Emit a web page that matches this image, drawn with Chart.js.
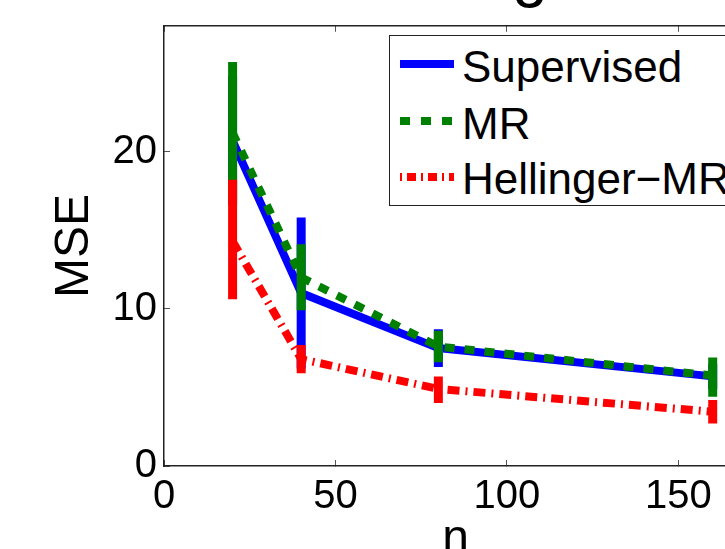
<!DOCTYPE html>
<html>
<head>
<meta charset="utf-8">
<script src="https://cdn.jsdelivr.net/npm/chart.js@4"></script>
<style>
  html, body { margin: 0; padding: 0; background: #fff; }
  #wrap { position: relative; width: 725px; height: 549px; overflow: hidden; background: #fff; }
  #chart { position: absolute; left: 0; top: -80px; }
  .lg { position: absolute; font-family: "Liberation Sans", Arial, sans-serif; font-size: 44px; line-height: 44px; color: #000; white-space: nowrap; }
  #legendBox { position: absolute; left: 389px; top: 35px; width: 420px; height: 171px; box-sizing: border-box; border: 1.5px solid #222; background: #fff; }
  svg.sw { position: absolute; left: 400px; width: 54px; height: 12px; }
</style>
</head>
<body>
<div id="wrap">
  <canvas id="chart" width="1060" height="700"></canvas>
  <div id="legendBox"></div>
  <svg class="sw" style="top:58px"><line x1="0" y1="6" x2="54" y2="6" stroke="#0000ff" stroke-width="8"/></svg>
  <div class="lg" style="left:462px;top:45px">Supervised</div>
  <svg class="sw" style="top:115px"><line x1="0" y1="6" x2="54" y2="6" stroke="#008000" stroke-width="8" stroke-dasharray="10 11"/></svg>
  <div class="lg" style="left:462px;top:102px">MR</div>
  <svg class="sw" style="top:171px"><line x1="0" y1="6" x2="54" y2="6" stroke="#ff0000" stroke-width="8" stroke-dasharray="2 5 9 5"/></svg>
  <div class="lg" style="left:462px;top:157px">Hellinger&minus;MR</div>
</div>
<script>
// données
var n = [20, 40, 80, 160];
var supervised   = [20.7, 11.0, 7.5, 5.7];
var supervisedLo = [16.6, 6.2, 6.3, 4.9];
var supervisedHi = [24.8, 15.8, 8.7, 6.5];
var mr   = [21.2, 12.0, 7.6, 5.75];
var mrLo = [16.9, 9.9, 6.6, 4.4];
var mrHi = [25.7, 14.1, 8.6, 6.9];
var hellinger   = [14.3, 6.8, 4.9, 3.45];
var hellingerLo = [10.6, 5.9, 4.0, 2.7];
var hellingerHi = [18.2, 7.7, 5.7, 4.2];
var xTicks = [0, 50, 100, 150];
var yTicks = [0, 10, 20];

var FONT = '"Liberation Sans", Arial, sans-serif';
var AXIS = '#222';

function pts(ys) {
    return n.map(function (x, i) { return {x: x, y: ys[i]}; });
}
// barres d'erreur : un segment vertical par point, séparés par des trous
function errPts(lo, hi) {
    var out = [];
    n.forEach(function (x, i) {
        out.push({x: x, y: lo[i]}, {x: x, y: hi[i]}, {x: x, y: null});
    });
    return out;
}

var ctx = document.getElementById('chart').getContext('2d');
var chart = new Chart(ctx, {
    type: 'line',
    data: {
        datasets: [
            {label: 'Supervised', data: pts(supervised), borderColor: '#0000ff', borderWidth: 8, pointRadius: 0, order: 6},
            {label: 'Supervised err', data: errPts(supervisedLo, supervisedHi), borderColor: '#0000ff', borderWidth: 9, pointRadius: 0, order: 5},
            {label: 'MR', data: pts(mr), borderColor: '#008000', borderWidth: 8, borderDash: [10, 10], pointRadius: 0, order: 4},
            {label: 'MR err', data: errPts(mrLo, mrHi), borderColor: '#008000', borderWidth: 9, pointRadius: 0, order: 3},
            {label: 'Hellinger-MR', data: pts(hellinger), borderColor: '#ff0000', borderWidth: 8, borderDash: [12, 6, 2, 6], pointRadius: 0, order: 2},
            {label: 'Hellinger-MR err', data: errPts(hellingerLo, hellingerHi), borderColor: '#ff0000', borderWidth: 9, pointRadius: 0, order: 1}
        ]
    },
    options: {
        responsive: false,
        animation: false,
        devicePixelRatio: 1,
        spanGaps: false,
        layout: {padding: 0},
        plugins: {
            legend: {display: false},
            tooltip: {enabled: false},
            title: {
                display: true,
                text: 'g',
                color: '#000',
                font: {family: FONT, size: 64, weight: 'normal'},
                padding: {top: 19, bottom: 10}
            }
        },
        scales: {
            x: {
                type: 'linear', position: 'bottom', min: 0, max: 170,
                afterBuildTicks: function (s) { s.ticks = xTicks.map(function (v) { return {value: v}; }); },
                afterFit: function (s) { s.height = 154; },
                grid: {drawOnChartArea: false, drawTicks: true, tickLength: -6, color: '#555', lineWidth: 1},
                border: {display: true, color: AXIS, width: 1.5},
                ticks: {color: '#000', font: {family: FONT, size: 40}, padding: 13, maxRotation: 0},
                title: {display: true, text: 'n', color: '#000', font: {family: FONT, size: 48}, padding: {top: 0, bottom: 51}}
            },
            xTop: {
                type: 'linear', position: 'top', min: 0, max: 170,
                afterBuildTicks: function (s) { s.ticks = xTicks.map(function (v) { return {value: v}; }); },
                afterFit: function (s) { s.height = 0; },
                grid: {drawOnChartArea: false, drawTicks: true, tickLength: -6, color: '#555', lineWidth: 1},
                border: {display: true, color: AXIS, width: 1.5},
                ticks: {display: false}
            },
            y: {
                type: 'linear', position: 'left', min: 0, max: 28,
                afterBuildTicks: function (s) { s.ticks = yTicks.map(function (v) { return {value: v}; }); },
                afterFit: function (s) { s.width = 164; },
                grid: {drawOnChartArea: false, drawTicks: true, tickLength: -6, color: '#555', lineWidth: 1},
                border: {display: true, color: AXIS, width: 1.5},
                ticks: {color: '#000', font: {family: FONT, size: 40}, padding: 13},
                title: {display: true, text: 'MSE', color: '#000', font: {family: FONT, size: 48}, padding: {top: 46, bottom: 0}}
            },
            ySpace: {
                type: 'linear', position: 'right', min: 0, max: 28,
                afterFit: function (s) { s.width = 313; },
                grid: {display: false},
                border: {display: false},
                ticks: {display: false}
            }
        }
    }
});
</script>
</body>
</html>
